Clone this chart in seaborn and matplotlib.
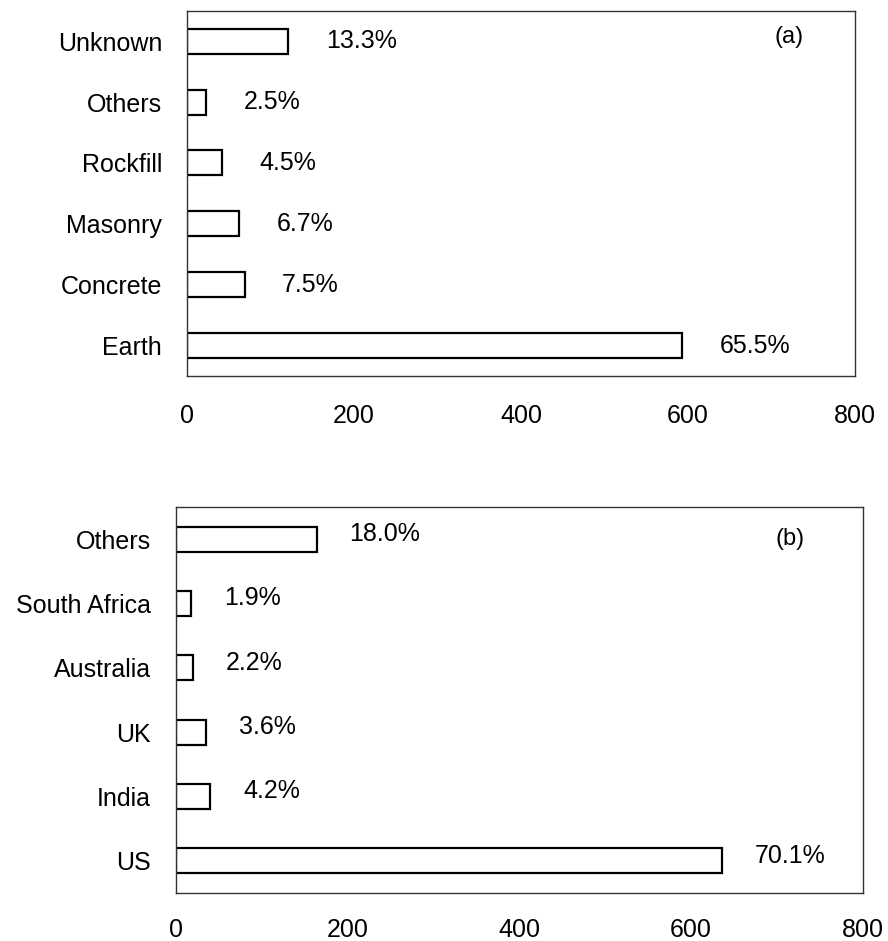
import matplotlib
matplotlib.use("Agg")
import matplotlib.pyplot as plt
import seaborn as sns

# data
dam_types = ["Unknown", "Others", "Rockfill", "Masonry", "Concrete", "Earth"]
dam_counts = [121, 23, 42, 62, 69, 593]
dam_pct = ["13.3%", "2.5%", "4.5%", "6.7%", "7.5%", "65.5%"]

countries = ["Others", "South Africa", "Australia", "UK", "India", "US"]
country_counts = [164, 18, 20, 35, 40, 636]
country_pct = ["18.0%", "1.9%", "2.2%", "3.6%", "4.2%", "70.1%"]

sns.set_style("white")
plt.rcParams["font.family"] = ["Liberation Sans", "DejaVu Sans"]
plt.rcParams["text.color"] = "black"
plt.rcParams["xtick.color"] = "black"
plt.rcParams["ytick.color"] = "black"
plt.rcParams["xtick.labelcolor"] = "black"
plt.rcParams["ytick.labelcolor"] = "black"

fig = plt.figure(figsize=(8.88, 9.41), dpi=100)
ax1 = fig.add_axes([0.2106, 0.6004, 0.7523, 0.3882])
ax2 = fig.add_axes([0.1982, 0.0510, 0.7733, 0.4102])


def draw_panel(ax, cats, vals, pcts, width, offset, dy, tag, tag_xy, xpad):
    sns.barplot(x=vals, y=cats, orient="h", color="white", saturation=1,
                edgecolor="black", linewidth=1.6, width=width, ax=ax)
    for i, (v, p) in enumerate(zip(vals, pcts)):
        ax.text(v + offset, i + dy, p, ha="left", va="center", fontsize=18,
                color="black")
    ax.set_xlim(0, 800)
    ax.set_xticks([0, 200, 400, 600, 800])
    ax.tick_params(axis="x", direction="in", length=5, width=0.8,
                   labelsize=18, pad=xpad, color="#333333")
    ax.tick_params(axis="y", length=0, labelsize=18, pad=18)
    ax.set_xlabel("")
    ax.set_ylabel("")
    for s in ax.spines.values():
        s.set_visible(True)
        s.set_color("#333333")
        s.set_linewidth(1.0)
    ax.text(tag_xy[0], tag_xy[1], tag, transform=ax.transAxes,
            ha="center", va="center", fontsize=17, color="black")


draw_panel(ax1, dam_types, dam_counts, dam_pct, 0.41, 45, 0.0, "(a)", (0.901, 0.928), 20)
draw_panel(ax2, countries, country_counts, country_pct, 0.39, 38, -0.08, "(b)", (0.894, 0.917), 18)

fig.savefig("out.png", dpi=100)
